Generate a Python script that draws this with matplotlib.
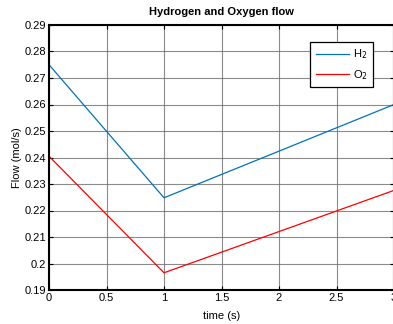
import matplotlib
matplotlib.use("Agg")
import matplotlib.pyplot as plt

# data
time = [0, 1, 3]
h2_flow = [0.275, 0.2248, 0.260]
o2_flow = [0.2405, 0.1965, 0.2276]

xticks = [0, 0.5, 1, 1.5, 2, 2.5, 3]
yticks = [0.19, 0.2, 0.21, 0.22, 0.23, 0.24, 0.25, 0.26, 0.27, 0.28, 0.29]

plt.rcParams['font.family'] = ['Liberation Sans', 'DejaVu Sans']

fig = plt.figure(figsize=(3.93, 3.24), dpi=100)
ax = fig.add_axes([49/393, 34/324, 345/393, 265/324])

ax.plot(time, h2_flow, color='#0072BD', lw=0.9, label='H$_2$')
ax.plot(time, o2_flow, color='#FF0000', lw=0.9, label='O$_2$')

ax.set_xlim(0, 3)
ax.set_ylim(0.19, 0.29)
ax.set_xticks(xticks)
ax.set_yticks(yticks)
ax.set_xticklabels(['0', '0.5', '1', '1.5', '2', '2.5', '3'])
ax.set_yticklabels(['0.19', '0.2', '0.21', '0.22', '0.23', '0.24', '0.25',
                    '0.26', '0.27', '0.28', '0.29'])
ax.tick_params(direction='in', length=3, width=0.8, labelsize=8,
               top=True, right=True, pad=2, colors='black')
ax.grid(True, color='#6e6e6e', lw=0.8, alpha=0.8)
for s in ax.spines.values():
    s.set_linewidth(1.5)
    s.set_color('black')

ax.set_title('Hydrogen and Oxygen flow', fontsize=8, fontweight='bold', pad=7)
ax.set_xlabel('time (s)', fontsize=8, labelpad=6)
ax.set_ylabel('Flow (mol/s)', fontsize=8, labelpad=2)

leg = ax.legend(loc='upper right', bbox_to_anchor=(373/393, 1 - 42/324),
                bbox_transform=fig.transFigure, fontsize=8, fancybox=False,
                framealpha=1, edgecolor='black', handlelength=3.0,
                handletextpad=0.3, borderpad=0.5, labelspacing=0.6,
                borderaxespad=0)
leg.get_frame().set_linewidth(0.9)

fig.savefig('out.png', dpi=100)
